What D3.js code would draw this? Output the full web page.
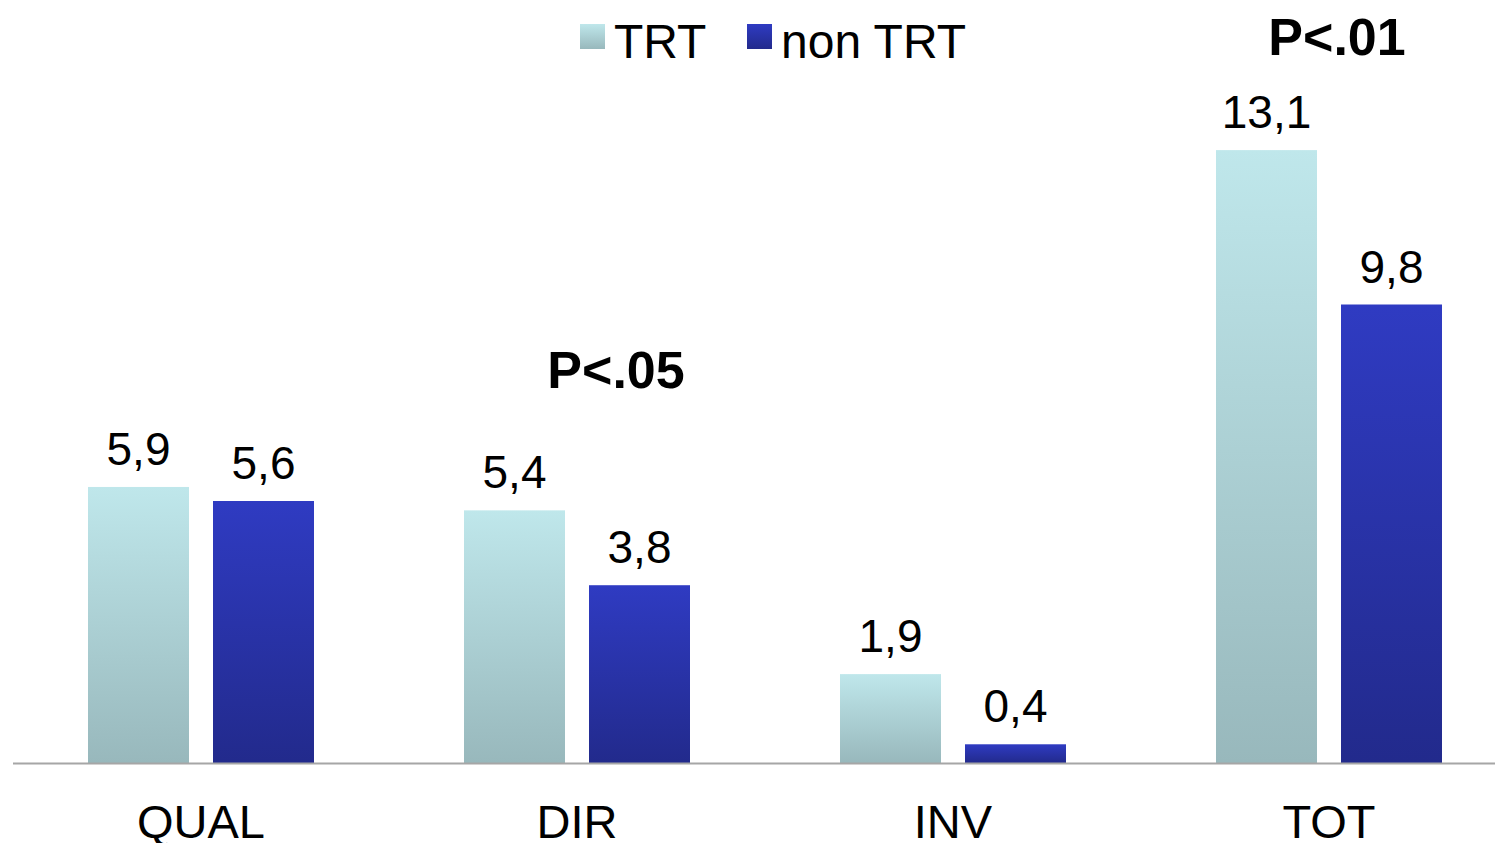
<!DOCTYPE html>
<html>
<head>
<meta charset="utf-8">
<script src="https://cdn.jsdelivr.net/npm/d3@7"></script>
<style>
  body { margin: 0; background: #fff; }
  svg { display: block; font-family: "Liberation Sans", Arial, sans-serif; }
</style>
</head>
<body>
<svg width="1495" height="843"></svg>
<script>
var categories = ["QUAL", "DIR", "INV", "TOT"];
var series = ["TRT", "non TRT"];
var trtValues = [5.9, 5.4, 1.9, 13.1];
var nonTrtValues = [5.6, 3.8, 0.4, 9.8];
var valueLabels = [["5,9", "5,6"], ["5,4", "3,8"], ["1,9", "0,4"], ["13,1", "9,8"]];
var pValues = [{cat: "DIR", text: "P<.05"}, {cat: "TOT", text: "P<.01"}];

var svg = d3.select("svg");

var x0 = d3.scaleBand().domain(categories).range([13, 1517]);
var x1 = d3.scaleBand().domain(series).range([0, x0.bandwidth()])
    .paddingInner(0.192).paddingOuter(0.6);
var y = d3.scaleLinear().domain([0, 14]).range([763, 108]);

var defs = svg.append("defs");
var grads = [
    {id: "gTRT", top: "#bfe7eb", bottom: "#98b8bc"},
    {id: "gNon", top: "#2f3bc2", bottom: "#222a8c"}
];
grads.forEach(function(g){
    var lg = defs.append("linearGradient")
        .attr("id", g.id)
        .attr("x1", "0%").attr("x2", "0%")
        .attr("y1", "0%").attr("y2", "100%");
    lg.append("stop").attr("offset", "0%").style("stop-color", g.top);
    lg.append("stop").attr("offset", "100%").style("stop-color", g.bottom);
});

var rows = categories.map(function(c, i){
    return {cat: c, vals: [trtValues[i], nonTrtValues[i]], labels: valueLabels[i]};
});

var groups = svg.selectAll("g.grp")
    .data(rows)
    .enter()
    .append("g")
    .attr("class", "grp")
    .attr("transform", function(d){ return "translate(" + x0(d.cat) + ",0)"; });

groups.selectAll("rect")
    .data(function(d){ return d.vals.map(function(v, j){ return {s: series[j], v: v}; }); })
    .enter()
    .append("rect")
    .attr("x", function(d){ return x1(d.s); })
    .attr("y", function(d){ return y(d.v); })
    .attr("width", x1.bandwidth())
    .attr("height", function(d){ return y(0) - y(d.v); })
    .attr("fill", function(d){ return d.s == "TRT" ? "url(#gTRT)" : "url(#gNon)"; });

groups.selectAll("text.val")
    .data(function(d){ return d.vals.map(function(v, j){ return {s: series[j], v: v, t: d.labels[j]}; }); })
    .enter()
    .append("text")
    .attr("class", "val")
    .attr("x", function(d){ return x1(d.s) + x1.bandwidth() / 2; })
    .attr("y", function(d){ return y(d.v) - 22; })
    .attr("text-anchor", "middle")
    .attr("font-size", "46px")
    .attr("fill", "#000")
    .text(function(d){ return d.t; });

// axis line
svg.append("line")
    .attr("x1", 13).attr("x2", 1495)
    .attr("y1", y(0) + 0.5).attr("y2", y(0) + 0.5)
    .attr("stroke", "#a6a6a6")
    .attr("stroke-width", 2);

// category labels
svg.selectAll("text.cat")
    .data(categories)
    .enter()
    .append("text")
    .attr("class", "cat")
    .attr("x", function(d){ return x0(d) + x0.bandwidth() / 2; })
    .attr("y", 838)
    .attr("text-anchor", "middle")
    .attr("font-size", "47px")
    .text(function(d){ return d; });

// significance labels
var pPos = {"DIR": [616, 388], "TOT": [1337, 55]};
svg.selectAll("text.p")
    .data(pValues)
    .enter()
    .append("text")
    .attr("class", "p")
    .attr("x", function(d){ return pPos[d.cat][0]; })
    .attr("y", function(d){ return pPos[d.cat][1]; })
    .attr("text-anchor", "middle")
    .attr("font-size", "52px")
    .attr("font-weight", "bold")
    .text(function(d){ return d.text; });

// legend
var legend = svg.append("g").attr("class", "legend");
var legX = [580, 747];
series.forEach(function(s, i){
    legend.append("rect")
        .attr("x", legX[i]).attr("y", 24)
        .attr("width", 25).attr("height", 25)
        .attr("fill", i == 0 ? "url(#gTRT)" : "url(#gNon)");
    legend.append("text")
        .attr("x", legX[i] + 34).attr("y", 58)
        .attr("font-size", "48px")
        .text(s);
});
</script>
</body>
</html>
